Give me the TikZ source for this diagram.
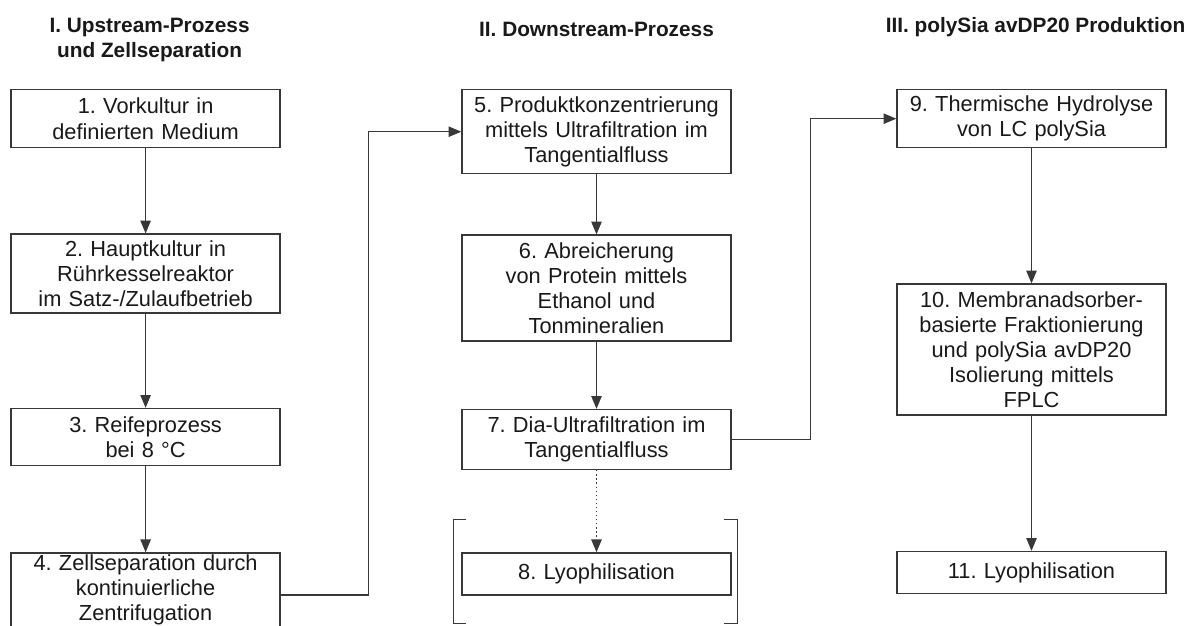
\documentclass[tikz,border=0pt]{standalone}
\usepackage{fontspec}
\setmainfont{Liberation Sans}
\usepackage{xcolor}
\usetikzlibrary{arrows.meta, positioning, calc}
\definecolor{linegray}{HTML}{383838}
\frenchspacing

\begin{document}
\begin{tikzpicture}[
        node distance=2cm,
        stepbox/.style={rectangle, draw=linegray, line width=1pt, text=black!90, text width=6.5cm, minimum width=6.725cm, align=center, inner sep=0pt, font=\fontsize{15.5}{17.8}\selectfont},
        head/.style={align=center, inner sep=0pt, text=black!90, font=\fontsize{14.8}{17.8}\selectfont\bfseries},
        arrow/.style={-{Triangle[length=0.32cm, width=0.26cm]}, line width=0.9pt, linegray}
    ]
    \useasboundingbox (0,0) rectangle (29.675,-15.65);

    % --- I. UPSTREAM ---
    \node [stepbox, minimum height=1.45cm, anchor=north] (vork) at (3.64,-2.225) {1. Vorkultur in\\ definierten Medium};
    \node [stepbox, minimum height=1.975cm, below=2.125cm of vork] (haupt) {2. Hauptkultur in\\ Rührkesselreaktor\\ im Satz-/Zulaufbetrieb};
    \node [stepbox, minimum height=1.425cm, below=2.35cm of haupt] (reife) {3. Reifeprozess\\ bei 8 °C};
    \node [stepbox, minimum height=2.1cm, below=2.15cm of reife] (zsep) {4. Zellseparation durch\\ kontinuierliche\\ Zentrifugation\\[-7pt]\mbox{}};

    % --- II. DOWNSTREAM ---
    \node [stepbox, minimum height=2.1cm, anchor=north] (konz) at (14.9125,-2.225) {5. Produktkonzentrierung\\ mittels Ultrafiltration im\\ Tangentialfluss};
    \node [stepbox, minimum height=2.65cm, below=1.5cm of konz] (abr) {6. Abreicherung\\ von Protein mittels\\ Ethanol und\\ Tonmineralien};
    \node [stepbox, minimum height=1.5cm, below=1.675cm of abr] (dia) {7. Dia-Ultrafiltration im\\ Tangentialfluss};
    \node [stepbox, minimum height=1.05cm, below=2.05cm of dia] (lyo1) {8. Lyophilisation};

    % --- III. PRODUKTION ---
    \node [stepbox, minimum height=1.45cm, anchor=north] (hydro) at (25.7875,-2.225) {9. Thermische Hydrolyse\\ von LC polySia};
    \node [stepbox, minimum height=3.275cm, below=3.375cm of hydro] (frak) {10. Membranadsorber-\\ basierte Fraktionierung\\ und polySia avDP20\\ Isolierung mittels\\ FPLC};
    \node [stepbox, minimum height=1.05cm, below=3.375cm of frak] (lyo2) {11. Lyophilisation};

    % Headings
    \node [head, above=0.675cm of vork, xshift=0.1cm] (head_up) {I. Upstream-Prozess\\ und Zellseparation};
    \node [head, above=1.3cm of konz] (head_down) {II. Downstream-Prozess};
    \node [head, above=1.3cm of hydro, xshift=0.1cm] (head_prod) {III. polySia avDP20 Produktion};

    % Connectors
    \draw [arrow] (vork) -- (haupt);
    \draw [arrow] (haupt) -- (reife);
    \draw [arrow] (reife) -- (zsep);
    \draw [arrow] (zsep.east) -- ++(2.2,0) |- (konz.west);
    \draw [arrow] (konz) -- (abr);
    \draw [arrow] (abr) -- (dia);
    \draw [arrow, dotted] (dia) -- (lyo1);
    \draw [arrow] (dia.east) -- ++(1.975,0) |- (hydro.west);
    \draw [arrow] (hydro) -- (frak);
    \draw [arrow] (frak) -- (lyo2);

    % Brackets
    \draw [linegray, line width=0.9pt] ($(lyo1.north west)+(0.125,0.825)$) -- ++(-0.325,0) -- ++(0,-2.6) -- ++(0.325,0);
    \draw [linegray, line width=0.9pt] ($(lyo1.north east)+(-0.2,0.825)$) -- ++(0.35,0) -- ++(0,-2.6) -- ++(-0.35,0);

\end{tikzpicture}
\end{document}
